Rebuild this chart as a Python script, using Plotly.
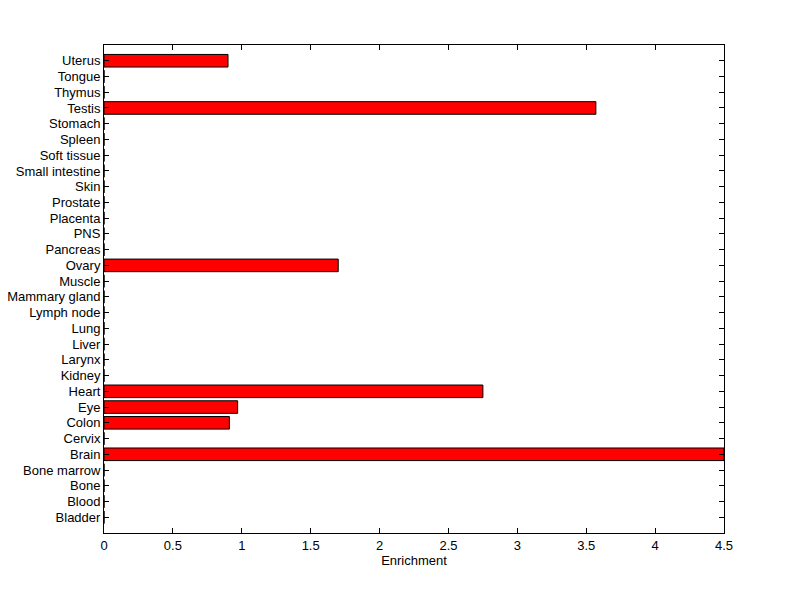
import plotly.graph_objects as go

tissues = ["Bladder", "Blood", "Bone", "Bone marrow", "Brain", "Cervix", "Colon", "Eye",
           "Heart", "Kidney", "Larynx", "Liver", "Lung", "Lymph node", "Mammary gland",
           "Muscle", "Ovary", "Pancreas", "PNS", "Placenta", "Prostate", "Skin",
           "Small intestine", "Soft tissue", "Spleen", "Stomach", "Testis", "Thymus",
           "Tongue", "Uterus"]
enrichment = [0, 0, 0, 0, 4.5, 0, 0.91, 0.97,
              2.75, 0, 0, 0, 0, 0, 0,
              0, 1.70, 0, 0, 0, 0, 0,
              0, 0, 0, 0, 3.57, 0,
              0, 0.90]
x_ticks = [0, 0.5, 1, 1.5, 2, 2.5, 3, 3.5, 4, 4.5]
x_tick_labels = ["0", "0.5", "1", "1.5", "2", "2.5", "3", "3.5", "4", "4.5"]

positions = list(range(1, len(tissues) + 1))

fig = go.Figure(go.Bar(
    x=enrichment, y=positions, orientation="h", width=0.8,
    marker=dict(color="#ff0000", line=dict(color="black", width=1)),
    cliponaxis=True,
))

font = dict(family="Liberation Sans, Arial, sans-serif", size=13, color="black")
fig.update_layout(
    width=784, height=583,
    margin=dict(l=96, r=68, t=37, b=58),
    paper_bgcolor="white", plot_bgcolor="white",
    font=font, showlegend=False, bargap=0.2,
    xaxis=dict(range=[0, 4.5], tickvals=x_ticks, ticktext=x_tick_labels,
               ticks="inside", ticklen=5, tickcolor="black", mirror="ticks",
               showline=True, linecolor="black", linewidth=1, showgrid=False,
               zeroline=False, automargin=False,
               title=dict(text="Enrichment", font=font, standoff=4)),
    yaxis=dict(range=[0, len(tissues) + 1], tickvals=positions, ticktext=tissues,
               ticks="inside", ticklen=5, tickcolor="black", mirror="ticks",
               showline=True, linecolor="black", linewidth=1, showgrid=False,
               zeroline=False, automargin=False),
)

fig.write_html("out.html")
